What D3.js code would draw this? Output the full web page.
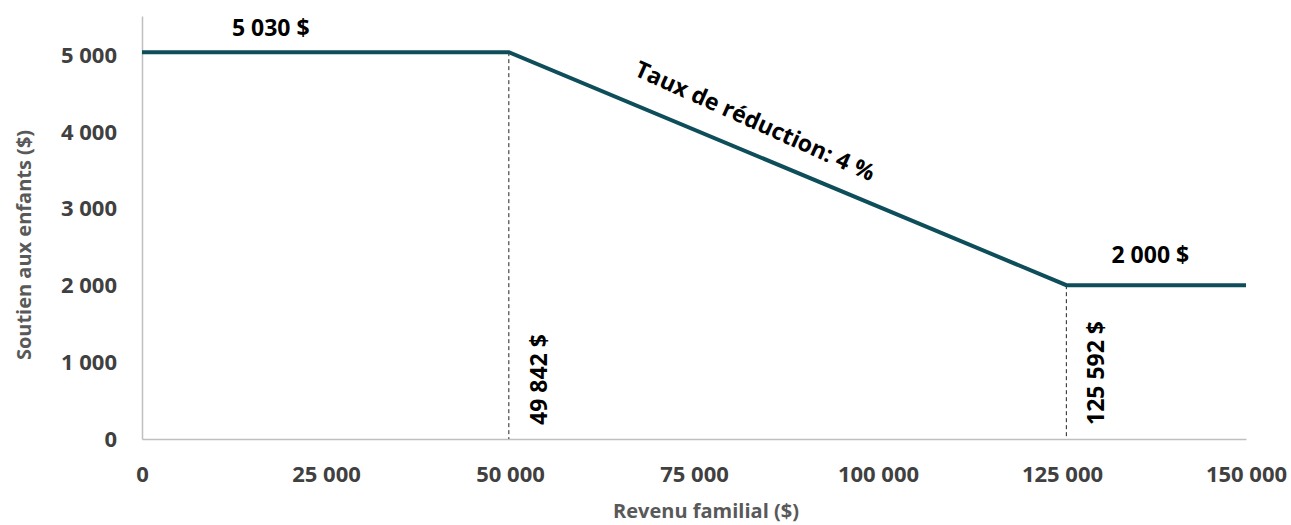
<!DOCTYPE html>
<html>
<head>
<meta charset="utf-8">
<script src="https://cdn.jsdelivr.net/npm/d3@7"></script>
<style>
  body { margin: 0; background: #fff; }
  text { font-family: "Open Sans", sans-serif; font-weight: bold; }
</style>
</head>
<body>
<div class="container"></div>
<script>
const width = 1291;
const height = 525;

// données
const revenus = [0, 49842, 125592, 150000];
const soutien = [5030, 5030, 2000, 2000];
const seuils = [49842, 125592];
const seuilLabels = ['49 842 $', '125 592 $'];
const xTicks = [0, 25000, 50000, 75000, 100000, 125000, 150000];
const yTicks = [0, 1000, 2000, 3000, 4000, 5000];

const fr = d3.formatLocale({ decimal: ',', thousands: ' ', grouping: [3], currency: ['', ' $'] });
const fmt = fr.format(',');

const svg = d3.select('.container')
  .append('svg')
  .attr('width', width)
  .attr('height', height);

const x = d3.scaleLinear().domain([0, 150000]).range([142, 1246]);
const y = d3.scaleLinear().domain([0, 5500]).range([439, 16]);

// axe x
const axeX = svg.append('g')
  .attr('transform', `translate(0, ${y(0)})`)
  .call(d3.axisBottom(x).tickValues(xTicks).tickSize(0).tickSizeOuter(0).tickFormat(fmt));
axeX.select('.domain').attr('stroke', '#bfbfbf').attr('stroke-width', 1.5);
axeX.selectAll('text')
  .attr('y', 35)
  .attr('dy', '0.35em')
  .attr('font-size', 22)
  .attr('fill', '#404040');

// axe y
const axeY = svg.append('g')
  .attr('transform', `translate(${x(0)}, 0)`)
  .call(d3.axisLeft(y).tickValues(yTicks).tickSize(0).tickSizeOuter(0).tickFormat(fmt));
axeY.select('.domain').attr('stroke', '#bfbfbf').attr('stroke-width', 1.5);
axeY.selectAll('text')
  .attr('x', -25)
  .attr('dy', '0.35em')
  .attr('font-size', 22)
  .attr('fill', '#404040');

// titres des axes
svg.append('text')
  .attr('x', 706)
  .attr('y', 511)
  .attr('text-anchor', 'middle')
  .attr('dy', '0.35em')
  .attr('font-size', 20)
  .attr('fill', '#595959')
  .text('Revenu familial ($)');

svg.append('text')
  .attr('transform', 'translate(24, 245) rotate(-90)')
  .attr('text-anchor', 'middle')
  .attr('dy', '0.35em')
  .attr('font-size', 20)
  .attr('fill', '#595959')
  .text('Soutien aux enfants ($)');

// lignes pointillées aux seuils
const pts = revenus.map((r, i) => ({ r: r, s: soutien[i] }));
svg.selectAll('.seuil')
  .data(seuils)
  .enter()
  .append('line')
  .attr('class', 'seuil')
  .attr('x1', d => x(d))
  .attr('x2', d => x(d))
  .attr('y1', (d, i) => y(soutien[i + 1]))
  .attr('y2', y(0))
  .attr('stroke', '#222')
  .attr('stroke-width', 1)
  .attr('stroke-dasharray', '4,3');

svg.selectAll('.seuil-label')
  .data(seuils)
  .enter()
  .append('text')
  .attr('class', 'seuil-label')
  .attr('transform', d => `translate(${x(d) + 30}, 425) rotate(-90)`)
  .attr('text-anchor', 'start')
  .attr('dy', '0.35em')
  .attr('font-size', 23)
  .attr('fill', '#000')
  .text((d, i) => seuilLabels[i]);

// courbe
const ligne = d3.line().x(d => x(d.r)).y(d => y(d.s));
svg.append('path')
  .datum(pts)
  .attr('d', ligne)
  .attr('fill', 'none')
  .attr('stroke', '#0e4d5a')
  .attr('stroke-width', 4);

// annotations
svg.append('text')
  .attr('x', x(17500))
  .attr('y', y(soutien[0]) - 24)
  .attr('text-anchor', 'middle')
  .attr('dy', '0.35em')
  .attr('font-size', 23)
  .attr('fill', '#000')
  .text(fr.format('$,')(soutien[0]));

svg.append('text')
  .attr('x', x(137000))
  .attr('y', y(soutien[3]) - 30)
  .attr('text-anchor', 'middle')
  .attr('dy', '0.35em')
  .attr('font-size', 23)
  .attr('fill', '#000')
  .text(fr.format('$,')(soutien[3]));

const angle = Math.atan2(y(soutien[2]) - y(soutien[1]), x(revenus[2]) - x(revenus[1])) * 180 / Math.PI;
svg.append('text')
  .attr('transform', `translate(${x(83300)}, 121) rotate(${angle + 1.5})`)
  .attr('text-anchor', 'middle')
  .attr('dy', '0.35em')
  .attr('font-size', 23)
  .attr('fill', '#000')
  .text('Taux de réduction: 4 %');
</script>
</body>
</html>
